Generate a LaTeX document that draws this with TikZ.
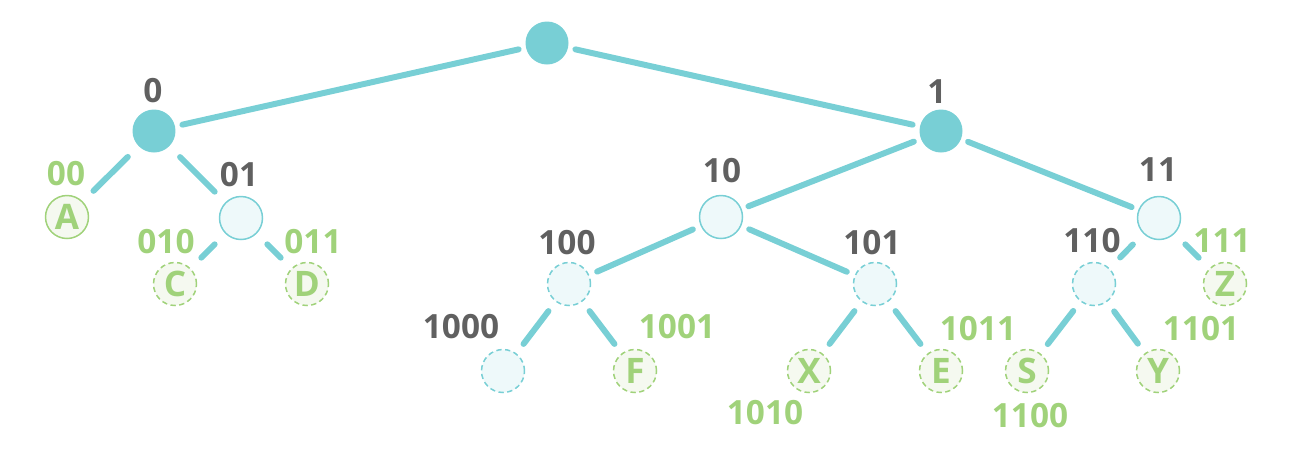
\documentclass[tikz,border=0pt]{standalone}
\usepackage{fontspec}
\setmainfont{Open Sans}
\definecolor{tcyan}{HTML}{78CFD5}
\definecolor{lcyan}{HTML}{EEF9FA}
\definecolor{tgreen}{HTML}{A0D27A}
\definecolor{lgreen}{HTML}{F5F9F0}
\definecolor{tgray}{HTML}{606060}

\begin{document}
\begin{tikzpicture}[x=0.02cm,y=-0.02cm,inner sep=0pt,
full/.style={circle,fill=tcyan,minimum size=0.86cm},
inner/.style={circle,draw=tcyan,fill=lcyan,line width=0.85pt,minimum size=0.86cm},
ghost/.style={inner,dash pattern=on 3pt off 2pt},
leaf/.style={circle,draw=tgreen,fill=lgreen,line width=0.85pt,minimum size=0.86cm,text=tgreen,font=\fontsize{20}{22}\selectfont\bfseries},
dleaf/.style={leaf,dash pattern=on 3pt off 2pt},
code/.style={text=tgray,font=\fontsize{19}{22}\selectfont\bfseries},
gcode/.style={code,text=tgreen},
link/.style={draw=tcyan,line width=3.4pt,line cap=round,shorten <=#1,shorten >=#1},
link/.default=0.235cm]

\useasboundingbox (0,0) rectangle (1300,461);

% nodes
\node[full] (r) at (547,43) {};
\node[full] (n0) at (154,131) {};
\node[full] (n1) at (941,131) {};
\node[leaf] (A) at (67,217) {A};
\node[inner] (n01) at (241,218) {};
\node[dleaf] (C) at (175,284) {C};
\node[dleaf] (D) at (307,284) {D};
\node[inner] (n10) at (721,217) {};
\node[inner] (n11) at (1159,218) {};
\node[ghost] (n100) at (569,284) {};
\node[ghost] (n101) at (875,284) {};
\node[ghost] (n110) at (1094,284) {};
\node[dleaf] (Z) at (1225,284) {Z};
\node[ghost] (n1000) at (503,371) {};
\node[dleaf] (F) at (635,371) {F};
\node[dleaf] (X) at (809,371) {X};
\node[dleaf] (E) at (941,371) {E};
\node[dleaf] (S) at (1027,371) {S};
\node[dleaf] (Y) at (1158,371) {Y};

% codes
\node[code] (l0) at (153,91) {0};
\node[code] (l1) at (937,92) {1};
\node[gcode] (l00) at (66,174) {00};
\node[code] (l01) at (239,175) {01};
\node[gcode] (l010) at (166,242) {010};
\node[gcode] (l011) at (313,242) {011};
\node[code] (l10) at (722,171) {10};
\node[code] (l11) at (1158,170) {11};
\node[code] (l100) at (567,243) {100};
\node[code] (l101) at (872,243) {101};
\node[code] (l110) at (1092,241) {110};
\node[gcode] (l111) at (1222,241) {111};
\node[code] (l1000) at (461,327) {1000};
\node[gcode] (l1001) at (677,327) {1001};
\node[gcode] (l1010) at (765,413) {1010};
\node[gcode] (l1011) at (978,329) {1011};
\node[gcode] (l1100) at (1030,416) {1100};
\node[gcode] (l1101) at (1201,329) {1101};

% links
\draw[link=0.145cm] (r) -- (n0);
\draw[link=0.145cm] (r) -- (n1);
\draw[link=0.3cm] (n0) -- (A);
\draw[link=0.3cm] (n0) -- (n01);
\draw[link=0.3cm] (n01) -- (C);
\draw[link=0.3cm] (n01) -- (D);
\draw[link=0.145cm] (n1) -- (n10);
\draw[link=0.145cm] (n1) -- (n11);
\draw[link=0.17cm] (n10) -- (n100);
\draw[link=0.17cm] (n10) -- (n101);
\draw[link=0.3cm] (n11) -- (n110);
\draw[link=0.3cm] (n11) -- (Z);
\draw[link] (n100) -- (n1000);
\draw[link] (n100) -- (F);
\draw[link] (n101) -- (X);
\draw[link] (n101) -- (E);
\draw[link] (n110) -- (S);
\draw[link] (n110) -- (Y);
\end{tikzpicture}
\end{document}
